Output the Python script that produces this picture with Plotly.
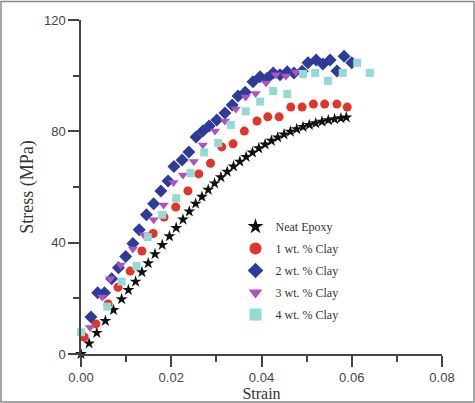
import plotly.graph_objects as go

# ---- data ----
neat_strain = [0.0, 0.0018, 0.0035, 0.0054, 0.0072, 0.0090, 0.0105, 0.0121, 0.0135, 0.0149,
               0.0164, 0.0180, 0.0196, 0.0211, 0.0226, 0.0240, 0.0254, 0.0268, 0.0282, 0.0296,
               0.0310, 0.0324, 0.0338, 0.0352, 0.0366, 0.0380, 0.0394, 0.0408, 0.0422, 0.0436,
               0.0450, 0.0464, 0.0478, 0.0492, 0.0506, 0.0520, 0.0534, 0.0548, 0.0562, 0.0576, 0.0588]
neat_stress = [0.0, 3.8, 7.6, 11.9, 15.8, 19.7, 23.0, 26.0, 29.4, 32.6,
               35.9, 39.2, 42.3, 45.3, 48.3, 51.2, 54.0, 56.5, 59.0, 61.3,
               63.5, 65.5, 67.4, 69.1, 70.8, 72.4, 73.9, 75.3, 76.6, 77.8,
               78.9, 79.9, 80.8, 81.6, 82.3, 82.9, 83.5, 84.0, 84.4, 84.7, 85.0]

clay1_strain = [0.0007, 0.0033, 0.0060, 0.0082, 0.0109, 0.0135, 0.0160, 0.0184, 0.0210, 0.0237,
                0.0261, 0.0287, 0.0312, 0.0337, 0.0362, 0.0390, 0.0414, 0.0439, 0.0465, 0.0490,
                0.0515, 0.0540, 0.0567, 0.0590]
clay1_stress = [6.1, 10.8, 18.0, 24.0, 29.8, 37.0, 43.3, 49.2, 52.8, 58.6,
                64.7, 68.5, 74.4, 75.5, 80.1, 83.7, 85.2, 85.2, 88.7, 88.7,
                89.8, 89.8, 89.8, 88.7]

clay2_strain = [0.0022, 0.0037, 0.0052, 0.0068, 0.0083, 0.0099, 0.0115, 0.0129, 0.0145, 0.0161,
                0.0177, 0.0193, 0.0206, 0.0224, 0.0239, 0.0255, 0.0270, 0.0284, 0.0301, 0.0319,
                0.0335, 0.0348, 0.0364, 0.0381, 0.0397, 0.0412, 0.0426, 0.0441, 0.0457, 0.0472,
                0.0490, 0.0503, 0.0521, 0.0536, 0.0552, 0.0567, 0.0583, 0.0600]
clay2_stress = [13.3, 22.0, 22.0, 27.0, 31.0, 35.0, 39.7, 44.6, 50.0, 54.0,
                58.6, 62.2, 67.4, 69.7, 72.6, 78.0, 80.1, 81.9, 84.1, 86.6,
                89.5, 92.7, 94.0, 97.8, 99.6, 99.0, 101.0, 100.3, 101.4, 101.0,
                101.6, 104.6, 105.6, 104.2, 105.6, 101.7, 107.0, 104.6]

clay3_strain = [0.0020, 0.0047, 0.0065, 0.0088, 0.0115, 0.0139, 0.0161, 0.0183, 0.0205, 0.0226,
                0.0250, 0.0270, 0.0297, 0.0319, 0.0343, 0.0365, 0.0387, 0.0410, 0.0432, 0.0454, 0.0476]
clay3_stress = [9.5, 20.5, 27.0, 32.0, 37.7, 42.8, 48.2, 53.5, 61.6, 64.3,
                69.2, 75.1, 80.1, 83.7, 88.0, 92.3, 93.6, 97.4, 100.3, 99.9, 101.3]

clay4_strain = [0.0000, 0.0058, 0.0090, 0.0123, 0.0148, 0.0180, 0.0211, 0.0243, 0.0273, 0.0304,
                0.0332, 0.0365, 0.0397, 0.0426, 0.0457, 0.0492, 0.0519, 0.0547, 0.0580, 0.0612, 0.0640]
clay4_stress = [7.8, 17.0, 26.0, 31.6, 42.0, 50.0, 56.0, 65.0, 72.4, 75.8,
                82.3, 87.2, 90.7, 94.5, 93.4, 100.6, 101.0, 98.1, 101.0, 104.6, 101.0]

names = ["Neat Epoxy", "1 wt. % Clay", "2 wt. % Clay", "3 wt. % Clay", "4 wt. % Clay"]
x_ticks = [0.0, 0.02, 0.04, 0.06, 0.08]
x_ticklabels = ["0.00", "0.02", "0.04", "0.06", "0.08"]
y_ticks = [0, 40, 80, 120]

series = [
    (neat_strain, neat_stress, "star", "#111111", 9),
    (clay1_strain, clay1_stress, "circle", "#e3342a", 9),
    (clay2_strain, clay2_stress, "diamond", "#2d3c98", 10),
    (clay3_strain, clay3_stress, "triangle-down", "#b150c0", 9),
    (clay4_strain, clay4_stress, "square", "#93dad5", 8),
]

fig = go.Figure()
for i, ((xs, ys, sym, col, sz), nm) in enumerate(zip(series, names)):
    fig.add_trace(go.Scatter(
        x=xs, y=ys, mode="markers", name=nm, legendgroup=f"g{i}",
        marker=dict(symbol=sym, color=col, size=sz, line=dict(width=0)),
        cliponaxis=False,
    ))

axis_col = "#444444"
fig.update_layout(
    width=475, height=403,
    margin=dict(l=81, r=33, t=20, b=49),
    paper_bgcolor="white", plot_bgcolor="white",
    showlegend=True,
    legend=dict(
        x=0.428, y=0.425, xanchor="left", yanchor="top",
        font=dict(family="Liberation Serif, Times New Roman, serif", size=12, color="#333333"),
        bgcolor="rgba(0,0,0,0)", itemsizing="constant", tracegroupgap=3,
    ),
    xaxis=dict(
        range=[0, 0.08], tickvals=x_ticks, ticktext=x_ticklabels, automargin=False,
        showgrid=False, zeroline=False, showline=True, linecolor=axis_col, linewidth=1.5,
        ticks="outside", ticklen=11, tickwidth=1.5, tickcolor=axis_col,
        tickfont=dict(family="Liberation Sans, Arial, sans-serif", size=13, color="#444444"),
        minor=dict(dtick=0.01, ticks="outside", ticklen=6, tickwidth=1.5, tickcolor=axis_col, showgrid=False),
        title=dict(text="Strain", standoff=2,
                   font=dict(family="Liberation Serif, Times New Roman, serif", size=16, color="#333333")),
    ),
    yaxis=dict(
        range=[0, 120], tickvals=y_ticks, automargin=False,
        showgrid=False, zeroline=False, showline=True, linecolor=axis_col, linewidth=1.5,
        ticks="outside", ticklen=11, tickwidth=1.5, tickcolor=axis_col,
        tickfont=dict(family="Liberation Sans, Arial, sans-serif", size=13, color="#444444"),
        minor=dict(dtick=20, ticks="outside", ticklen=6, tickwidth=1.5, tickcolor=axis_col, showgrid=False),
        title=dict(text="Stress (MPa)", standoff=6,
                   font=dict(family="Liberation Serif, Times New Roman, serif", size=18, color="#333333")),
    ),
    shapes=[dict(type="rect", xref="paper", yref="paper",
                 x0=(1 - 81) / 361, x1=(474 - 81) / 361,
                 y0=(354 - 402) / 334, y1=(354 - 1.5) / 334,
                 line=dict(color="#8a8a8a", width=1.5), fillcolor="rgba(0,0,0,0)")],
)

fig.write_html("out.html", config={"displayModeBar": False},
               post_script="document.body.style.margin='0';document.body.style.padding='0';")
